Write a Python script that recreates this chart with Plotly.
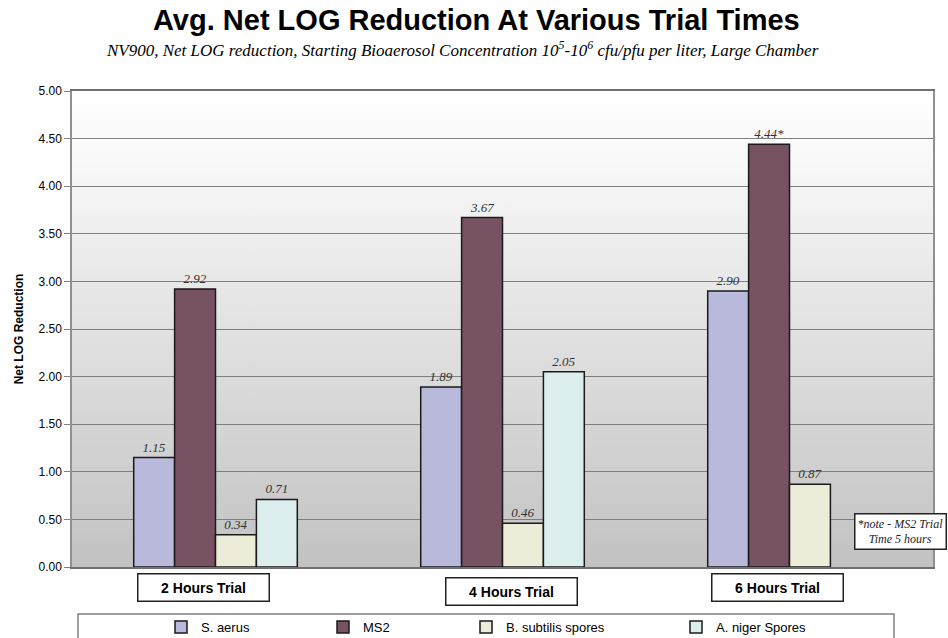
import base64
import plotly.graph_objects as go

trials = ['2 Hours Trial', '4 Hours Trial', '6 Hours Trial']
s_aerus = [1.15, 1.89, 2.90]
ms2 = [2.92, 3.67, 4.44]
b_subtilis = [0.34, 0.46, 0.87]
a_niger = [0.71, 2.05, None]

series = [
    ('S. aerus', s_aerus, '#b9b9dc'),
    ('MS2', ms2, '#775262'),
    ('B. subtilis spores', b_subtilis, '#ececd9'),
    ('A. niger Spores', a_niger, '#dcedee'),
]

# plot area in pixels: x 72..933, y 91..567
W, H = 948, 638
L, R, T, B = 72, 15, 91, 71
pw, ph = W - L - R, H - T - B


def px_x(x):
    return (x - L) / pw


def px_y(y):
    return (H - B - y) / ph


legend_sq = [183, 345, 488, 698]

fig = go.Figure()
for i, (name, vals, col) in enumerate(series):
    labels = ['' if v is None else f'{v:.2f}' for v in vals]
    if name == 'MS2':
        labels[2] = labels[2] + '*'
    fig.add_trace(go.Bar(
        x=trials, y=vals, name=name, text=labels, textposition='outside',
        marker=dict(color=col, line=dict(color='#1a1a1a', width=1.5)),
        textfont=dict(family='Liberation Serif', size=13, color='#333333', style='italic'),
        cliponaxis=False,
        legend='legend' if i == 0 else f'legend{i + 1}',
    ))

# gradient background of the plot area
svg = ('<svg xmlns="http://www.w3.org/2000/svg" width="10" height="100" preserveAspectRatio="none">'
       '<defs><linearGradient id="g" x1="0" y1="0" x2="0" y2="1">'
       '<stop offset="0" stop-color="#ffffff"/><stop offset="0.15" stop-color="#f8f8f8"/>'
       '<stop offset="1" stop-color="#c2c2c2"/></linearGradient></defs>'
       '<rect width="10" height="100" fill="url(#g)"/></svg>')
fig.add_layout_image(source='data:image/svg+xml;base64,' + base64.b64encode(svg.encode()).decode(),
                     xref='paper', yref='paper', x=0, y=1, sizex=1, sizey=1,
                     xanchor='left', yanchor='top', sizing='stretch', layer='below')

# legend frame
fig.add_shape(type='rect', xref='paper', yref='paper',
              x0=px_x(78), x1=px_x(894), y0=px_y(660), y1=px_y(614),
              line=dict(color='#808080', width=1.5), fillcolor='rgba(0,0,0,0)')

# category boxes
shifts = [-12, 8.5, -12.5]
yshift = [-20.5, -24.5, -20.5]
for tr, xs, ys in zip(trials, shifts, yshift):
    fig.add_annotation(x=tr, y=0, yref='y', text='<b>' + tr + '</b>', showarrow=False,
                       xshift=xs, yshift=ys, font=dict(family='Liberation Sans', size=14, color='black'),
                       bordercolor='#222222', borderwidth=1.5, borderpad=5, bgcolor='white',
                       width=120)

fig.add_annotation(xref='paper', yref='paper', x=px_x(900), y=px_y(531),
                   xanchor='center', yanchor='middle',
                   text='<i>*note - MS2 Trial<br>Time 5 hours</i>', showarrow=False,
                   font=dict(family='Liberation Serif', size=12, color='#222222'),
                   bordercolor='#222222', borderwidth=1.5, borderpad=2, bgcolor='white')

# title and subtitle
fig.add_annotation(xref='paper', yref='paper', x=px_x(476), y=px_y(20),
                   xanchor='center', yanchor='middle', showarrow=False,
                   text='<b>Avg. Net LOG Reduction At Various Trial Times</b>',
                   font=dict(family='Liberation Sans', size=29, color='black'))
fig.add_annotation(xref='paper', yref='paper', x=px_x(462), y=px_y(49),
                   xanchor='center', yanchor='middle', showarrow=False,
                   text='<i>NV900, Net LOG reduction, Starting Bioaerosol Concentration '
                        '10<sup>5</sup>-10<sup>6</sup> cfu/pfu per liter, Large Chamber</i>',
                   font=dict(family='Liberation Serif', size=17, color='black'))

legends = {}
for i, sq in enumerate(legend_sq):
    key = 'legend' if i == 0 else f'legend{i + 1}'
    legends[key] = dict(orientation='h', x=px_x(sq - 22), xanchor='left', y=px_y(627),
                        yanchor='middle', font=dict(family='Liberation Sans', size=13, color='black'),
                        bgcolor='rgba(0,0,0,0)', itemwidth=30)

fig.update_layout(
    width=W, height=H,
    margin=dict(l=L, r=R, t=T, b=B, autoexpand=False),
    paper_bgcolor='white', plot_bgcolor='rgba(0,0,0,0)',
    barmode='group', bargap=0.43, bargroupgap=0,
    font=dict(family='Liberation Sans', color='black'),
    showlegend=True,
    **legends,
)
fig.update_xaxes(showticklabels=False, showline=True, linecolor='#707070', linewidth=1.5,
                 mirror=True, range=[-0.5, 2.5])
fig.update_yaxes(range=[0, 5], dtick=0.5, tickformat='.2f', showgrid=True, gridcolor='#7f7f7f',
                 gridwidth=1, ticks='outside', ticklen=6, tickcolor='#808080',
                 showline=True, linecolor='#909090', linewidth=1.5, mirror=True,
                 tickfont=dict(size=12), zeroline=False,
                 title=dict(text='<b>Net LOG Reduction</b>', font=dict(size=12), standoff=12))

# page body margin would otherwise push the figure 8px down and right
fig.write_html('out.html', config={'displayModeBar': False},
               post_script="document.body.style.margin='0';")
